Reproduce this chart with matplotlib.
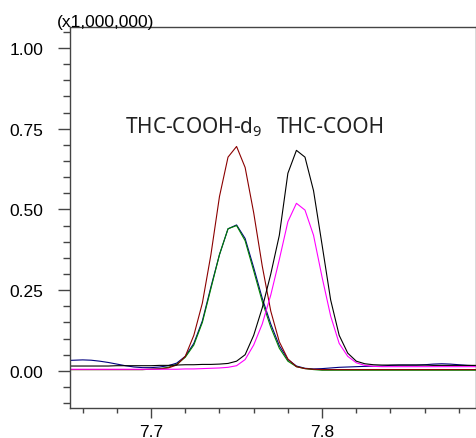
import numpy as np
import matplotlib
matplotlib.use("Agg")
import matplotlib.pyplot as plt
from matplotlib.ticker import MultipleLocator, FixedLocator, FormatStrFormatter

plt.rcParams['font.family'] = ['Liberation Sans', 'DejaVu Sans']
plt.rcParams['mathtext.fontset'] = 'custom'
plt.rcParams['mathtext.rm'] = 'Noto Sans'
plt.rcParams['mathtext.it'] = 'Noto Sans'
plt.rcParams['mathtext.default'] = 'regular'

# retention time grid (min), one scan every 0.005 min
times = np.round(np.arange(7.650, 7.8905, 0.005), 3)

# intensities (x1,000,000)
red = [0.004, 0.004, 0.004, 0.004, 0.004, 0.004, 0.004, 0.004, 0.004, 0.004,
       0.005, 0.006, 0.009, 0.018, 0.045, 0.11, 0.21, 0.36, 0.54, 0.662,
       0.695, 0.63, 0.49, 0.325, 0.185, 0.09, 0.037, 0.013, 0.007, 0.005,
       0.004, 0.004, 0.004, 0.004, 0.004, 0.004, 0.004, 0.004, 0.004, 0.004,
       0.004, 0.004, 0.004, 0.004, 0.004, 0.004, 0.004, 0.004, 0.004]
green = [0.004, 0.004, 0.004, 0.004, 0.004, 0.004, 0.004, 0.004, 0.004, 0.004,
         0.005, 0.007, 0.011, 0.02, 0.042, 0.08, 0.15, 0.255, 0.36, 0.44,
         0.45, 0.403, 0.31, 0.215, 0.135, 0.07, 0.03, 0.013, 0.007, 0.004,
         0.002, 0.002, 0.002, 0.002, 0.002, 0.002, 0.002, 0.002, 0.002, 0.002,
         0.002, 0.002, 0.002, 0.002, 0.002, 0.002, 0.002, 0.002, 0.002]
blue = [0.032, 0.033, 0.034, 0.033, 0.03, 0.026, 0.021, 0.016, 0.012, 0.01,
        0.01, 0.012, 0.016, 0.024, 0.045, 0.085, 0.155, 0.26, 0.36, 0.44,
        0.452, 0.41, 0.32, 0.225, 0.145, 0.078, 0.035, 0.015, 0.008, 0.006,
        0.007, 0.009, 0.011, 0.012, 0.013, 0.014, 0.014, 0.015, 0.017, 0.018,
        0.018, 0.018, 0.019, 0.021, 0.022, 0.021, 0.019, 0.017, 0.016]
black = [0.015, 0.015, 0.015, 0.015, 0.015, 0.015, 0.016, 0.016, 0.016, 0.016,
         0.016, 0.017, 0.017, 0.018, 0.019, 0.019, 0.02, 0.02, 0.021, 0.023,
         0.03, 0.05, 0.11, 0.195, 0.3, 0.42, 0.612, 0.683, 0.662, 0.558,
         0.39, 0.22, 0.11, 0.055, 0.03, 0.022, 0.019, 0.018, 0.018, 0.018,
         0.018, 0.018, 0.018, 0.017, 0.017, 0.017, 0.017, 0.017, 0.017]
magenta = [0.005, 0.005, 0.005, 0.005, 0.005, 0.005, 0.005, 0.005, 0.005, 0.005,
           0.005, 0.005, 0.005, 0.005, 0.006, 0.006, 0.007, 0.008, 0.009, 0.011,
           0.016, 0.035, 0.08, 0.145, 0.235, 0.345, 0.462, 0.519, 0.498, 0.42,
           0.29, 0.17, 0.085, 0.045, 0.025, 0.017, 0.014, 0.013, 0.013, 0.013,
           0.013, 0.013, 0.013, 0.013, 0.013, 0.013, 0.013, 0.013, 0.013]

labels = ["THC-COOH-d$_9$", "THC-COOH"]
label_x = [7.6848, 7.7735]
label_y = [0.74, 0.74]

fig = plt.figure(figsize=(4.77, 4.39), dpi=100)
ax = fig.add_axes([70 / 477, 1 - 409 / 439, 406 / 477, 381 / 439])

lw = 0.8
ax.plot(times, blue, color='#000080', lw=lw)
ax.plot(times, green, color='#008000', lw=lw)
ax.plot(times, red, color='#8b0000', lw=lw)
ax.plot(times, magenta, color='#ff00ff', lw=lw)
ax.plot(times, black, color='black', lw=lw)

ax.set_xlim(7.6526, 7.890)
ax.set_ylim(-0.115, 1.065)

ax.xaxis.set_major_locator(FixedLocator([7.7, 7.8]))
ax.xaxis.set_minor_locator(MultipleLocator(0.02))
ax.xaxis.set_major_formatter(FormatStrFormatter('%.1f'))
ax.yaxis.set_major_locator(MultipleLocator(0.25))
ax.yaxis.set_minor_locator(MultipleLocator(0.05))
ax.yaxis.set_major_formatter(FormatStrFormatter('%.2f'))

spine_c = '#444444'
for s in ax.spines.values():
    s.set_color(spine_c)
    s.set_linewidth(1.0)
ax.tick_params(axis='y', which='major', length=9, width=1.0, color=spine_c,
               labelsize=12.5, pad=10)
ax.tick_params(axis='y', which='minor', length=4.8, width=1.0, color=spine_c)
ax.tick_params(axis='x', which='major', length=7.2, width=1.0, color=spine_c,
               labelsize=12.5, pad=4.5)
ax.tick_params(axis='x', which='minor', length=3.6, width=1.0, color=spine_c)

for t, x, y in zip(labels, label_x, label_y):
    ax.text(x, y, t, fontsize=15, family=['Noto Sans', 'DejaVu Sans'],
            ha='left', va='baseline', color='#222222')

fig.text(57 / 477, 1 - 27 / 439, "(x1,000,000)", fontsize=12.5,
         ha='left', va='baseline')

fig.savefig("out.png", dpi=100)
